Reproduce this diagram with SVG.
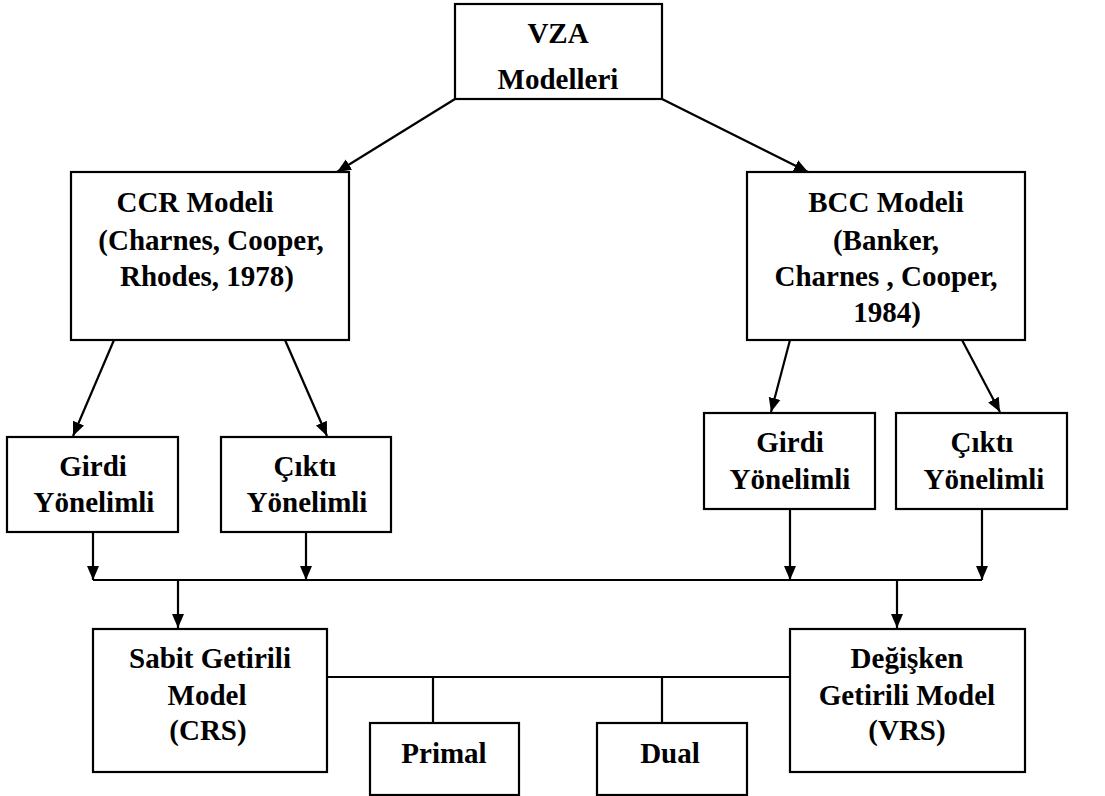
<svg xmlns="http://www.w3.org/2000/svg" width="1105" height="796" viewBox="0 0 1105 796">
<style>
.box{fill:#fff;stroke:#000;stroke-width:2.2}
.t{text-anchor:middle;fill:#000}
.c{fill:none;stroke:#000;stroke-width:2.2}
.a{fill:none;stroke:#000;stroke-width:2.2;marker-end:url(#ah)}
</style>
<defs>
<marker id="ah" markerUnits="userSpaceOnUse" markerWidth="14" markerHeight="14" viewBox="0 0 14 14" refX="14" refY="7" orient="auto">
<path d="M0,1 L14,7 L0,13 Z" fill="#000"/>
</marker>
</defs>
<rect width="1105" height="796" fill="#fff"/>
<g id="connectors">
<line class="a" x1="455" y1="99" x2="337" y2="172"/>
<line class="a" x1="662" y1="99" x2="808" y2="172"/>
<line class="a" x1="114" y1="340" x2="73" y2="436"/>
<line class="a" x1="285" y1="340" x2="327" y2="436"/>
<line class="a" x1="790" y1="340" x2="771" y2="412"/>
<line class="a" x1="962" y1="340" x2="1000" y2="412"/>
<line class="a" x1="93" y1="532" x2="93" y2="580"/>
<line class="a" x1="306" y1="532" x2="306" y2="580"/>
<line class="a" x1="790" y1="509" x2="790" y2="580"/>
<line class="a" x1="982" y1="509" x2="982" y2="580"/>
<line class="c" x1="93" y1="580" x2="982" y2="580"/>
<line class="a" x1="178" y1="580" x2="178" y2="628"/>
<line class="a" x1="897" y1="580" x2="897" y2="628"/>
<line class="c" x1="327" y1="677" x2="790" y2="677"/>
<line class="c" x1="433" y1="677" x2="433" y2="723"/>
<line class="c" x1="662" y1="677" x2="662" y2="723"/>
</g>
<g font-family="Liberation Serif, Times New Roman, serif" font-weight="bold" font-size="29">
<g id="vza">
<rect class="box" x="455" y="4" width="207" height="95"/>
<text class="t" x="558" y="43">VZA</text>
<text class="t" x="558" y="89">Modelleri</text>
</g>
<g id="ccr">
<rect class="box" x="71" y="172" width="278" height="168"/>
<text class="t" x="195" y="212">CCR Modeli</text>
<text class="t" x="211" y="250">(Charnes, Cooper,</text>
<text class="t" x="207" y="286">Rhodes, 1978)</text>
</g>
<g id="bcc">
<rect class="box" x="747" y="172" width="278" height="168"/>
<text class="t" x="886" y="212">BCC Modeli</text>
<text class="t" x="886" y="250">(Banker,</text>
<text class="t" x="886" y="286">Charnes , Cooper,</text>
<text class="t" x="887" y="322">1984)</text>
</g>
<g id="girdi-l">
<rect class="box" x="7" y="437" width="171" height="95"/>
<text class="t" x="93" y="476">Girdi</text>
<text class="t" x="94" y="512">Yönelimli</text>
</g>
<g id="cikti-l">
<rect class="box" x="221" y="437" width="170" height="95"/>
<text class="t" x="305" y="476">Çıktı</text>
<text class="t" x="307" y="512">Yönelimli</text>
</g>
<g id="girdi-r">
<rect class="box" x="704" y="413" width="171" height="96"/>
<text class="t" x="790" y="452">Girdi</text>
<text class="t" x="790" y="489">Yönelimli</text>
</g>
<g id="cikti-r">
<rect class="box" x="896" y="413" width="171" height="96"/>
<text class="t" x="982" y="452">Çıktı</text>
<text class="t" x="984" y="489">Yönelimli</text>
</g>
<g id="crs">
<rect class="box" x="93" y="629" width="234" height="143"/>
<text class="t" x="210" y="668">Sabit Getirili</text>
<text class="t" x="207" y="705">Model</text>
<text class="t" x="208" y="740">(CRS)</text>
</g>
<g id="vrs">
<rect class="box" x="790" y="629" width="235" height="143"/>
<text class="t" x="907" y="668">Değişken</text>
<text class="t" x="907" y="705">Getirili Model</text>
<text class="t" x="907" y="740">(VRS)</text>
</g>
<g id="primal">
<rect class="box" x="370" y="723" width="149" height="72"/>
<text class="t" x="444" y="763">Primal</text>
</g>
<g id="dual">
<rect class="box" x="597" y="723" width="150" height="72"/>
<text class="t" x="670" y="763">Dual</text>
</g>
</g>
</svg>
